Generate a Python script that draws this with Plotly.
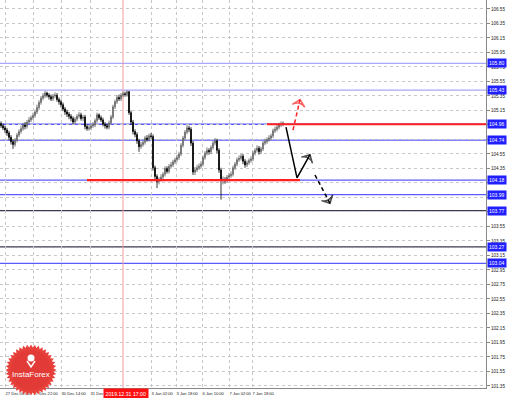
import numpy as np
import plotly.graph_objects as go

# ---------------- data (H1 bars, index = bar number) ----------------
opens = [104.97,104.94,104.91,104.88,104.84,104.78,104.72,104.68,104.74,104.81,
         104.86,104.90,104.95,104.93,104.99,105.02,105.05,105.08,105.13,105.19,
         105.26,105.32,105.35,105.39,105.36,105.34,105.31,105.35,105.36,105.30,
         105.27,105.23,105.17,105.13,105.10,105.07,105.04,104.99,105.03,105.07,
         105.09,105.04,105.06,104.93,104.90,104.91,104.94,104.95,105.01,105.09,
         105.05,105.02,104.96,104.94,104.92,104.98,105.06,105.20,105.27,105.33,
         105.31,105.36,105.38,105.37,105.41,105.12,104.99,104.86,104.82,104.73,
         104.65,104.68,104.71,104.77,104.75,104.80,104.79,104.36,104.24,104.17,
         104.20,104.23,104.27,104.35,104.31,104.38,104.40,104.44,104.47,104.50,
         104.55,104.67,104.77,104.85,104.91,104.89,104.70,104.30,104.33,104.36,
         104.38,104.41,104.50,104.56,104.60,104.58,104.64,104.70,104.73,104.60,
         104.33,104.19,104.20,104.18,104.23,104.25,104.27,104.36,104.41,104.47,
         104.49,104.52,104.45,104.40,104.43,104.46,104.48,104.56,104.60,104.63,
         104.58,104.62,104.70,104.72,104.75,104.77,104.80,104.87,104.89,104.92,
         104.95,104.96]
closes = [104.94,104.91,104.88,104.84,104.78,104.72,104.68,104.74,104.81,104.86,
          104.90,104.95,104.93,104.99,105.02,105.05,105.08,105.13,105.19,105.26,
          105.32,105.35,105.39,105.36,105.34,105.31,105.35,105.36,105.30,105.27,
          105.23,105.17,105.13,105.10,105.07,105.04,104.99,105.03,105.07,105.09,
          105.04,105.06,104.93,104.90,104.91,104.94,104.95,105.01,105.09,105.05,
          105.02,104.96,104.94,104.92,104.98,105.06,105.20,105.27,105.33,105.31,
          105.36,105.38,105.37,105.41,105.12,104.99,104.86,104.82,104.73,104.65,
          104.68,104.71,104.77,104.75,104.80,104.79,104.36,104.24,104.17,104.20,
          104.23,104.27,104.35,104.31,104.38,104.40,104.44,104.47,104.50,104.55,
          104.67,104.77,104.85,104.91,104.89,104.70,104.30,104.33,104.36,104.38,
          104.41,104.50,104.56,104.60,104.58,104.64,104.70,104.73,104.60,104.33,
          104.19,104.20,104.18,104.23,104.25,104.27,104.36,104.41,104.47,104.49,
          104.52,104.45,104.40,104.43,104.46,104.48,104.56,104.60,104.63,104.58,
          104.62,104.70,104.72,104.75,104.77,104.80,104.87,104.89,104.92,104.95,
          104.96,104.98]
highs = [105.00,104.97,104.94,104.91,104.87,104.81,104.75,104.77,104.84,104.89,
         104.94,104.98,104.99,105.02,105.06,105.08,105.12,105.16,105.23,105.29,
         105.35,105.39,105.42,105.41,105.39,105.37,105.38,105.40,105.39,105.33,
         105.30,105.26,105.20,105.16,105.13,105.10,105.07,105.06,105.10,105.13,
         105.12,105.09,105.09,104.96,104.95,104.97,104.99,105.04,105.12,105.11,
         105.08,105.05,104.99,104.97,105.01,105.09,105.23,105.30,105.36,105.37,
         105.39,105.41,105.41,105.43,105.42,105.15,105.02,104.89,104.85,104.76,
         104.72,104.75,104.80,104.81,104.83,104.84,104.82,104.39,104.27,104.23,
         104.27,104.30,104.38,104.38,104.41,104.44,104.47,104.50,104.54,104.58,
         104.70,104.80,104.88,104.95,104.94,104.92,104.73,104.37,104.40,104.42,
         104.45,104.53,104.59,104.64,104.63,104.67,104.73,104.77,104.76,104.63,
         104.36,104.24,104.23,104.26,104.29,104.31,104.39,104.44,104.50,104.53,
         104.55,104.55,104.48,104.46,104.49,104.52,104.59,104.63,104.67,104.66,
         104.65,104.73,104.76,104.78,104.81,104.83,104.90,104.93,104.95,104.98,
         105.00,105.00]
lows = [104.91,104.88,104.84,104.80,104.74,104.68,104.62,104.65,104.71,104.78,
        104.83,104.87,104.89,104.90,104.96,104.99,105.02,105.05,105.10,105.16,
        105.23,105.29,105.32,105.33,105.30,105.28,105.28,105.32,105.27,105.23,
        105.19,105.14,105.09,105.06,105.03,105.00,104.96,104.96,105.00,105.04,
        105.01,105.00,104.89,104.87,104.87,104.88,104.91,104.92,104.98,105.02,
        104.99,104.93,104.90,104.89,104.89,104.95,105.03,105.17,105.24,105.28,
        105.28,105.33,105.34,105.34,105.09,104.95,104.82,104.78,104.69,104.58,
        104.62,104.65,104.68,104.72,104.72,104.76,104.32,104.20,104.08,104.13,
        104.17,104.20,104.24,104.28,104.28,104.35,104.37,104.41,104.44,104.47,
        104.52,104.64,104.74,104.82,104.85,104.66,104.26,104.26,104.30,104.33,
        104.35,104.38,104.47,104.53,104.54,104.55,104.61,104.67,104.56,104.29,
        103.92,104.13,104.14,104.15,104.20,104.22,104.24,104.33,104.38,104.44,
        104.46,104.41,104.36,104.37,104.40,104.43,104.45,104.53,104.57,104.54,
        104.55,104.59,104.67,104.69,104.72,104.74,104.77,104.84,104.86,104.89,
        104.92,104.93]

# level lines (price) and their label text
level_prices = [105.80, 105.43, 104.96, 104.74, 104.19, 103.99, 103.77, 103.27, 103.04]
level_colors = ["#a8a8ff", "#a8a8ff", "#5a5aff", "#5a5aff", "#5a5aff", "#5a5aff",
                "#3a3a50", "#3a3a50", "#5a5aff"]
level_labels = ["105.80", "105.43", "104.96", "104.74", "104.18", "103.99",
                "103.77", "103.27", "103.04"]

# analyst drawings (bar index, price)
res_x = [133, 242.5]; res_y = [104.96, 104.96]
sup_x = [43, 149.5];  sup_y = [104.19, 104.19]
path_x = [142.5, 148, 154.5]; path_y = [104.92, 104.22, 104.54]
dash_x = [157, 164.5]; dash_y = [104.26, 103.87]
up_x = [146, 149.5]; up_y = [104.88, 105.30]
cursor_x = 61

# axis ticks
x_tick_vals = [2, 16, 30, 44.5, 75, 87.5, 100.5, 114, 125.5]
x_tick_text = ["27 Dec 06:00", "27 Dec 22:00", "30 Dec 14:00", "31 Dec",
               "3 Jan 02:00", "3 Jan 18:00", "6 Jan 10:00", "7 Jan 02:00", "7 Jan 18:00"]
y_tick_vals = [round(101.35 + 0.2 * k, 2) for k in range(27)]
y_hidden = [104.95, 104.75, 104.15, 103.95, 103.75]   # covered by level labels
y_tick_text = ["" if v in y_hidden else f"{v:.2f}" for v in y_tick_vals]

idx = list(range(len(closes)))

FONT = "Liberation Sans"
fig = go.Figure()

# horizontal levels
for p, c in zip(level_prices, level_colors):
    fig.add_shape(type="line", xref="paper", x0=0, x1=1, yref="y", y0=p, y1=p,
                  line=dict(color=c, width=1.3), layer="below")

# cursor vertical line
fig.add_shape(type="line", xref="x", x0=cursor_x, x1=cursor_x, yref="paper", y0=0, y1=1,
              line=dict(color="#f29a9a", width=1), layer="below")

fig.add_trace(go.Candlestick(
    x=idx, open=opens, high=highs, low=lows, close=closes,
    increasing=dict(line=dict(color="#5a5a5a", width=0.8), fillcolor="#ffffff"),
    decreasing=dict(line=dict(color="#000000", width=0.8), fillcolor="#000000"),
    whiskerwidth=0, showlegend=False, hoverinfo="skip"))

# red support / resistance
for xs, ys in [(res_x, res_y), (sup_x, sup_y)]:
    fig.add_trace(go.Scatter(x=xs, y=ys, mode="lines", line=dict(color="#ff2020", width=2.2),
                             showlegend=False, hoverinfo="skip"))

# arrows
fig.add_trace(go.Scatter(x=path_x, y=path_y, mode="lines+markers",
                         line=dict(color="black", width=1.5),
                         marker=dict(symbol="arrow-wide-open", size=[0, 0, 9], angleref="previous",
                                     color="black", line=dict(color="black", width=1.5)),
                         showlegend=False, hoverinfo="skip"))
fig.add_trace(go.Scatter(x=dash_x, y=dash_y, mode="lines+markers",
                         line=dict(color="black", width=1.5, dash="4px,3px"),
                         marker=dict(symbol="arrow-wide-open", size=[0, 9], angleref="previous",
                                     color="black", line=dict(color="black", width=1.5)),
                         showlegend=False, hoverinfo="skip"))
fig.add_trace(go.Scatter(x=up_x, y=up_y, mode="lines+markers",
                         line=dict(color="#ff2020", width=1.5, dash="4px,3px"),
                         marker=dict(symbol="arrow-wide-open", size=[0, 9], angleref="previous",
                                     color="#ff2020", line=dict(color="#ff2020", width=1.5)),
                         showlegend=False, hoverinfo="skip"))

# level price labels on the right axis
for p, t in zip(level_prices, level_labels):
    fig.add_annotation(xref="paper", x=1.0, y=p, yref="y", text=t, showarrow=False,
                       xanchor="left", yanchor="middle", xshift=1,
                       font=dict(family=FONT, size=5, color="white"),
                       bgcolor="#1f1fff", borderpad=1)

# cursor time label
fig.add_annotation(xref="x", x=cursor_x + 1.5, yref="paper", y=0, yanchor="top", xanchor="center",
                   text="2019.12.31 17:00", showarrow=False, yshift=0,
                   font=dict(family=FONT, size=5.2, color="white"), bgcolor="#ff1010", borderpad=1.5)

# InstaForex badge (decoration, paper coords)
W, H = 486.0, 388.0
cx, cy, r_out, r_in, n = 31.0, 370.0, 25.5, 22.5, 40
ang = np.linspace(0, 2 * np.pi, 2 * n, endpoint=False)
rad = np.where(np.arange(2 * n) % 2 == 0, r_out, r_in)
px = cx + rad * np.cos(ang)
py = cy + rad * np.sin(ang)
path = "M " + " L ".join(f"{x / W:.5f},{(H - y) / H:.5f}" for x, y in zip(px, py)) + " Z"
fig.add_shape(type="path", xref="paper", yref="paper", path=path,
              fillcolor="#e8413c", line=dict(width=0), layer="above")
fig.add_shape(type="circle", xref="paper", yref="paper",
              x0=(cx - 20) / W, x1=(cx + 20) / W, y0=(H - cy - 20) / H, y1=(H - cy + 20) / H,
              fillcolor="#e23a36", line=dict(width=0), layer="above")
fig.add_shape(type="circle", xref="paper", yref="paper",
              x0=(cx - 3.5) / W, x1=(cx + 3.5) / W, y0=(H - 358 - 3.5) / H, y1=(H - 358 + 3.5) / H,
              fillcolor="white", line=dict(width=0), layer="above")
fig.add_shape(type="path", xref="paper", yref="paper",
              path=f"M {(cx-4)/W},{(H-361)/H} L {(cx)/W},{(H-367)/H} L {(cx+4)/W},{(H-361)/H}",
              line=dict(color="white", width=1.5), layer="above")
fig.add_annotation(xref="paper", yref="paper", x=cx / W, y=(H - 374) / H, text="InstaForex",
                   showarrow=False, font=dict(family="Liberation Sans", size=8, color="white"),
                   xanchor="center", yanchor="middle")

fig.update_layout(
    width=510, height=398, margin=dict(l=0, r=24, t=0, b=10, autoexpand=False),
    paper_bgcolor="white", plot_bgcolor="white",
    xaxis=dict(range=[-0.5, 242.5], tickvals=x_tick_vals, ticktext=x_tick_text,
               showgrid=True, gridcolor="#c8c8c8", griddash="dot", gridwidth=1,
               tickfont=dict(family=FONT, size=4.1, color="#222"), tickangle=0,
               ticks="", ticklabelposition="outside right", ticklabelstandoff=1,
               automargin=False,
               showline=True, linecolor="#888", linewidth=1, zeroline=False,
               rangeslider=dict(visible=False), fixedrange=True),
    yaxis=dict(range=[101.322, 106.674], side="right", tickvals=y_tick_vals, ticktext=y_tick_text,
               showgrid=True, gridcolor="#c8c8c8", griddash="dot", gridwidth=1,
               tickfont=dict(family=FONT, size=4.6, color="#222"), automargin=False,
               ticks="outside", ticklen=3, tickcolor="#888",
               showline=True, linecolor="#888", linewidth=1, zeroline=False, fixedrange=True),
)

fig.write_html("out.html")
